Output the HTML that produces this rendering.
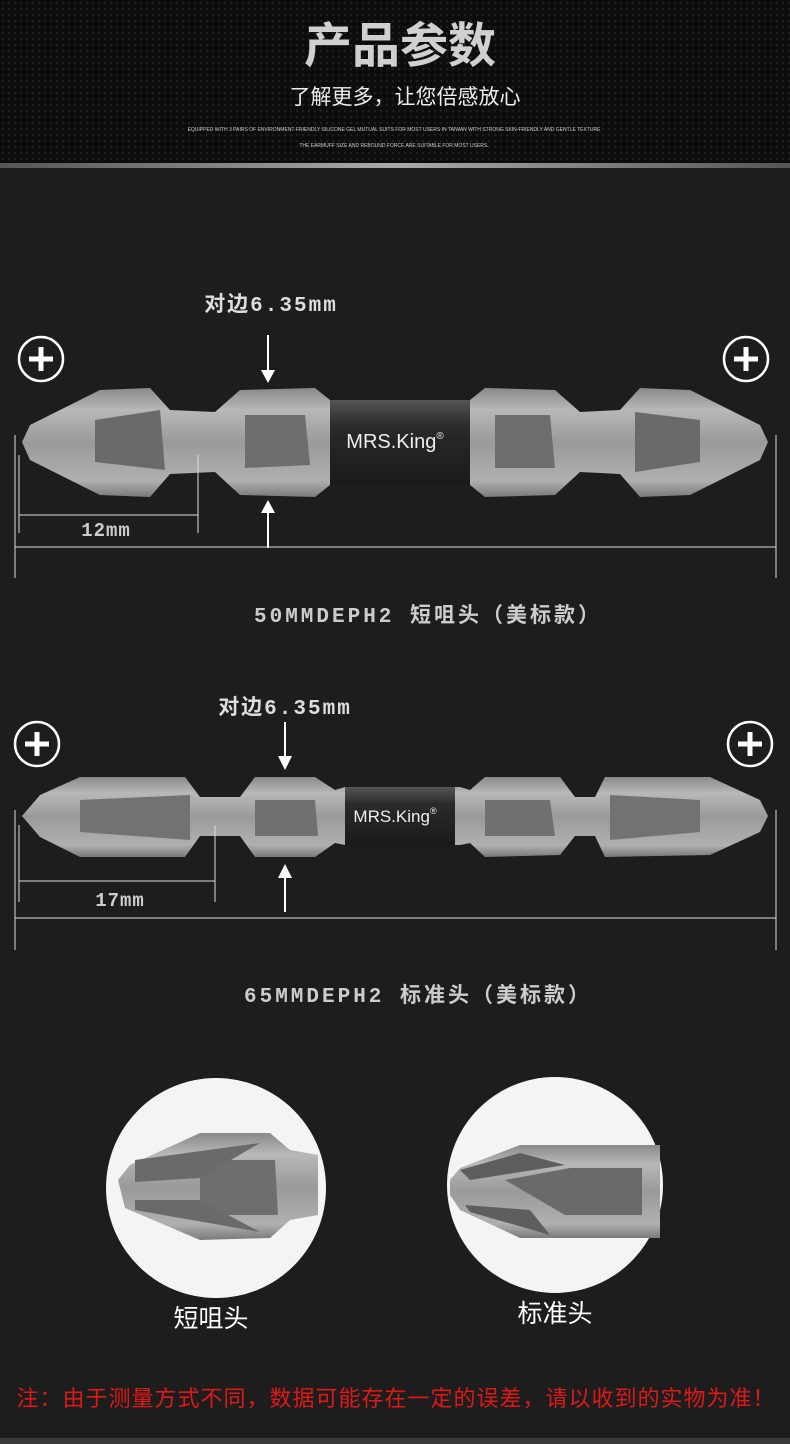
<!DOCTYPE html>
<html><head><meta charset="utf-8"><style>
body{margin:0;width:790px;height:1444px;background:#1d1d1d;overflow:hidden;font-family:"Liberation Sans","Noto Sans CJK SC",sans-serif}
</style></head><body>
<svg width="790" height="1444" xmlns="http://www.w3.org/2000/svg" style="display:block">
<defs>
<pattern id="dots" width="6" height="6" patternUnits="userSpaceOnUse"><rect width="6" height="6" fill="#0c0c0c"/><circle cx="3" cy="3" r="1.3" fill="#1e1e1e"/></pattern>
<linearGradient id="metal" x1="0" y1="0" x2="0" y2="1"><stop offset="0" stop-color="#8a8a8a"/><stop offset="0.2" stop-color="#b8b8b8"/><stop offset="0.5" stop-color="#9a9a9a"/><stop offset="0.85" stop-color="#b0b0b0"/><stop offset="1" stop-color="#7a7a7a"/></linearGradient>
<linearGradient id="band" x1="0" y1="0" x2="0" y2="1"><stop offset="0" stop-color="#555"/><stop offset="0.3" stop-color="#2a2a2a"/><stop offset="1" stop-color="#1a1a1a"/></linearGradient>
<linearGradient id="bar" x1="0" y1="0" x2="1" y2="0"><stop offset="0" stop-color="#555"/><stop offset="0.5" stop-color="#aaa"/><stop offset="1" stop-color="#555"/></linearGradient>
</defs>
<rect width="790" height="1444" fill="#1d1d1d"/>
<rect width="790" height="163" fill="url(#dots)"/>
<rect y="163" width="790" height="5" fill="url(#bar)"/>
<text x="400" y="62" text-anchor="middle" font-size="48" fill="#d0d0d0" font-family="Noto Sans CJK SC,sans-serif" font-weight="bold">产品参数</text>
<text x="405" y="104" text-anchor="middle" font-size="21" fill="#eee" font-family="Noto Sans CJK SC,sans-serif">了解更多，让您倍感放心</text>
<text x="394" y="131" text-anchor="middle" font-size="5" fill="#ccc">EQUIPPED WITH 3 PAIRS OF ENVIRONMENT-FRIENDLY SILICONE GEL MUTUAL SUITS FOR MOST USERS IN TAIWAN WITH STRONG SKIN-FRIENDLY AND GENTLE TEXTURE</text>
<text x="394" y="147" text-anchor="middle" font-size="5" fill="#ccc">THE EARMUFF SIZE AND REBOUND FORCE ARE SUITABLE FOR MOST USERS.</text>

<!-- Bit 1 -->
<g>
<text x="271" y="311" text-anchor="middle" font-size="21" fill="#ddd" font-weight="bold" letter-spacing="2" font-family="Liberation Mono,Noto Sans CJK SC,monospace">对边6.35mm</text>
<circle cx="41" cy="359" r="22" fill="none" stroke="#fff" stroke-width="2.5"/><path d="M29 359h24M41 347v24" stroke="#fff" stroke-width="5"/>
<circle cx="746" cy="359" r="22" fill="none" stroke="#fff" stroke-width="2.5"/><path d="M734 359h24M746 347v24" stroke="#fff" stroke-width="5"/>
<path d="M22 442 L30 425 L100 390 L150 388 L170 410 L215 412 L240 390 L315 388 L330 400 L470 400 L485 388 L555 390 L580 412 L620 410 L640 388 L690 390 L760 425 L768 442 L760 460 L690 495 L640 497 L620 474 L580 472 L555 495 L485 497 L470 485 L330 485 L315 497 L240 495 L215 472 L170 474 L150 497 L100 495 L30 460 Z" fill="url(#metal)"/>
<path d="M95 420 L160 410 L165 470 L95 462 Z" fill="#6a6a6a"/>
<path d="M245 415 L305 415 L310 465 L245 468 Z" fill="#6e6e6e"/>
<path d="M495 415 L550 415 L555 468 L495 468 Z" fill="#6e6e6e"/>
<path d="M635 412 L700 420 L700 462 L635 472 Z" fill="#6a6a6a"/>
<rect x="330" y="400" width="140" height="85" fill="url(#band)"/>
<text x="395" y="448" text-anchor="middle" font-size="20" fill="#eee">MRS.King<tspan font-size="10" dy="-9">®</tspan></text>
<path d="M268 335V378M268 505V548" stroke="#fff" stroke-width="2"/>
<path d="M261 370L268 383L275 370Z M261 513L268 500L275 513Z" fill="#fff"/>
<path d="M19 455V533M198 455V533M19 515H198" stroke="#ddd" stroke-width="1"/>
<text x="106" y="536" text-anchor="middle" font-size="19" fill="#ccc" font-weight="bold" letter-spacing="1" font-family="Liberation Mono,monospace">12mm</text>
<path d="M15 435V578M776 435V578M15 547H776" stroke="#ddd" stroke-width="1"/>
<text x="428" y="622" text-anchor="middle" font-size="21" fill="#ccc" font-weight="bold" letter-spacing="3" font-family="Liberation Mono,Noto Sans CJK SC,monospace">50MMDEPH2 短咀头（美标款）</text>
</g>

<!-- Bit 2 -->
<g>
<text x="285" y="714" text-anchor="middle" font-size="21" fill="#ddd" font-weight="bold" letter-spacing="2" font-family="Liberation Mono,Noto Sans CJK SC,monospace">对边6.35mm</text>
<circle cx="37" cy="744" r="22" fill="none" stroke="#fff" stroke-width="2.5"/><path d="M25 744h24M37 732v24" stroke="#fff" stroke-width="5"/>
<circle cx="750" cy="744" r="22" fill="none" stroke="#fff" stroke-width="2.5"/><path d="M738 744h24M750 732v24" stroke="#fff" stroke-width="5"/>
<path d="M22 816 L40 795 L80 777 L185 777 L200 797 L240 797 L255 777 L315 777 L335 790 L345 787 L460 787 L470 790 L485 777 L560 777 L575 797 L595 797 L605 777 L710 777 L760 800 L768 816 L760 832 L710 855 L605 857 L595 836 L575 836 L560 855 L485 857 L470 843 L460 845 L345 845 L335 843 L315 857 L255 857 L240 836 L200 836 L185 857 L80 857 L40 837 Z" fill="url(#metal)"/>
<path d="M80 800 L190 795 L190 840 L80 832 Z" fill="#727272"/>
<path d="M255 800 L315 800 L318 836 L255 836 Z" fill="#707070"/>
<path d="M485 800 L550 800 L555 836 L485 836 Z" fill="#707070"/>
<path d="M610 795 L700 800 L700 832 L610 840 Z" fill="#727272"/>
<rect x="345" y="787" width="110" height="58" fill="url(#band)"/>
<text x="395" y="822" text-anchor="middle" font-size="17" fill="#eee">MRS.King<tspan font-size="9" dy="-8">®</tspan></text>
<path d="M285 722V763M285 872V912" stroke="#fff" stroke-width="2"/>
<path d="M278 756L285 770L292 756Z M278 878L285 864L292 878Z" fill="#fff"/>
<path d="M19 825V902M215 825V902M19 881H215" stroke="#ddd" stroke-width="1"/>
<text x="120" y="906" text-anchor="middle" font-size="19" fill="#ccc" font-weight="bold" letter-spacing="1" font-family="Liberation Mono,monospace">17mm</text>
<path d="M15 810V950M776 810V950M15 918H776" stroke="#ddd" stroke-width="1"/>
<text x="418" y="1002" text-anchor="middle" font-size="21" fill="#ccc" font-weight="bold" letter-spacing="3" font-family="Liberation Mono,Noto Sans CJK SC,monospace">65MMDEPH2 标准头（美标款）</text>
</g>

<!-- Circles -->
<circle cx="216" cy="1188" r="110" fill="#f4f4f4"/>
<path d="M118 1180 L130 1165 L200 1133 L270 1133 L290 1150 L318 1155 L318 1215 L290 1220 L270 1238 L200 1240 L125 1208 Z" fill="url(#metal)"/>
<path d="M200 1160 L275 1160 L278 1215 L200 1215 Z" fill="#6e6e6e"/>
<path d="M135 1160 L260 1143 L200 1178 L135 1182 Z M135 1200 L200 1200 L260 1232 L135 1210 Z" fill="#6a6a6a"/>
<circle cx="555" cy="1185" r="108" fill="#f4f4f4"/>
<path d="M450 1180 L460 1168 L520 1145 L660 1145 L660 1238 L520 1238 L460 1210 L450 1195 Z" fill="url(#metal)"/>
<path d="M505 1180 L570 1168 L642 1168 L642 1215 L565 1215 Z" fill="#6a6a6a"/>
<path d="M460 1170 L520 1153 L565 1165 L470 1180 Z M465 1205 L530 1210 L550 1235 L470 1212 Z" fill="#5e5e5e"/>
<text x="211" y="1327" text-anchor="middle" font-size="25" fill="#fff" font-family="Noto Sans CJK SC,sans-serif">短咀头</text>
<text x="555" y="1322" text-anchor="middle" font-size="25" fill="#fff" font-family="Noto Sans CJK SC,sans-serif">标准头</text>
<text x="396" y="1406" text-anchor="middle" font-size="22" fill="#e01818" letter-spacing="1" font-family="Noto Sans CJK SC,sans-serif">注：由于测量方式不同，数据可能存在一定的误差，请以收到的实物为准！</text>
<rect y="1438" width="790" height="6" fill="#3a3a3a"/>
</svg>
</body></html>
